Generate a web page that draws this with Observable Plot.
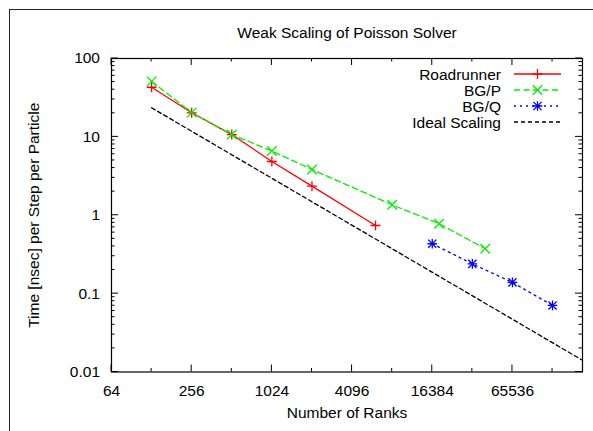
<!DOCTYPE html>
<html>
<head>
<meta charset="utf-8">
<script src="https://cdn.jsdelivr.net/npm/d3@7"></script>
<script src="https://cdn.jsdelivr.net/npm/@observablehq/plot@0.6"></script>
<style>
  html, body { margin: 0; padding: 0; background: #fff; }
  #chart { width: 593px; height: 431px; }
</style>
</head>
<body>
<div id="chart"></div>
<script>
// ---- data ----
const ranksRR = [128, 256, 512, 1024, 2048, 6144];
const timeRR = [43, 20.3, 10.7, 4.85, 2.35, 0.74];
const ranksBGP = [128, 256, 512, 1024, 2048, 8192, 18432, 40960];
const timeBGP = [51, 20.4, 10.7, 6.6, 3.84, 1.36, 0.78, 0.374];
const ranksBGQ = [16384, 32768, 65536, 131072];
const timeBGQ = [0.433, 0.24, 0.139, 0.0707];
const ranksIdeal = [128, 220000];
const timeIdeal = [23.5, 0.0141];
const xTicks = [64, 256, 1024, 4096, 16384, 65536];
const xMinor = [128, 512, 2048, 8192, 32768, 131072];
const yTicks = [0.01, 0.1, 1, 10, 100];
const seriesNames = ["Roadrunner", "BG/P", "BG/Q", "Ideal Scaling"];
const titleText = "Weak Scaling of Poisson Solver";
const xLabel = "Number of Ranks";
const yLabel = "Time [nsec] per Step per Particle";

const toRows = (xs, ys) => xs.map((x, i) => ({x, y: ys[i]}));
const rr = toRows(ranksRR, timeRR);
const bgp = toRows(ranksBGP, timeBGP);
const bgq = toRows(ranksBGQ, timeBGQ);
const ideal = toRows(ranksIdeal, timeIdeal);

const RED = "#ff0000", GREEN = "#00f000", BLUE = "#0000ff", BLACK = "#000000";
const FONT = "'Liberation Sans', Arial, Helvetica, sans-serif";
const FS = 15.5;

const plot = Plot.plot({
  width: 593,
  height: 431,
  marginLeft: 111,
  marginRight: 11,
  marginTop: 58,
  marginBottom: 59.5,
  style: {fontFamily: FONT, fontSize: FS + "px", color: "#000", background: "#fff"},
  x: {type: "log", base: 2, domain: [64, 220000]},
  y: {type: "log", domain: [0.01, 100]},
  marks: [
    Plot.axisX({ticks: xTicks, tickFormat: d => String(d), tickSize: 0, tickPadding: 13, label: null, fontSize: FS}),
    Plot.axisY({ticks: yTicks, tickFormat: d => String(d), tickSize: 0, tickPadding: 11.5, label: null, fontSize: FS}),
    Plot.line(ideal, {x: "x", y: "y", stroke: BLACK, strokeWidth: 1.3, strokeDasharray: "4,3"}),
    Plot.line(rr, {x: "x", y: "y", stroke: RED, strokeWidth: 1.3}),
    Plot.line(bgp, {x: "x", y: "y", stroke: GREEN, strokeWidth: 1.3, strokeDasharray: "6,3.5"}),
    Plot.line(bgq, {x: "x", y: "y", stroke: BLUE, strokeWidth: 1.3, strokeDasharray: "2,4"}),
    Plot.dot(rr, {x: "x", y: "y", symbol: "plus", r: 3.3, stroke: RED, strokeWidth: 1.3}),
    Plot.dot(bgp, {x: "x", y: "y", symbol: "times", r: 4.4, stroke: GREEN, strokeWidth: 1.3}),
    Plot.dot(bgq, {x: "x", y: "y", symbol: "plus", r: 3.2, stroke: BLUE, strokeWidth: 1.3}),
    Plot.dot(bgq, {x: "x", y: "y", symbol: "times", r: 3.8, stroke: BLUE, strokeWidth: 1.3}),
    Plot.frame({stroke: BLACK, strokeWidth: 1.2}),
    Plot.text([titleText], {text: d => d, frameAnchor: "top", lineAnchor: "middle", dy: -25, fontSize: FS}),
    Plot.text([xLabel], {text: d => d, frameAnchor: "bottom", lineAnchor: "middle", dy: 41, fontSize: FS}),
    Plot.text([yLabel], {text: d => d, frameAnchor: "left", textAnchor: "middle", lineAnchor: "middle", rotate: -90, dx: -77, fontSize: FS})
  ]
});

document.getElementById("chart").appendChild(plot);

// ---- inward mirrored ticks (gnuplot style) ----
const sx = plot.scale("x"), sy = plot.scale("y");
const [x0, x1] = sx.range;
const [y0, y1] = sy.range; // y0 bottom, y1 top
const svg = d3.select(plot);
const tg = svg.append("g").attr("stroke", BLACK).attr("stroke-width", 1);
const MAJ = 7, MIN = 3.5;
function xt(v, len) {
  const px = sx.apply(v);
  if (px < x0 - 0.5 || px > x1 + 0.5) return;
  tg.append("line").attr("x1", px).attr("x2", px).attr("y1", y0).attr("y2", y0 - len);
  tg.append("line").attr("x1", px).attr("x2", px).attr("y1", y1).attr("y2", y1 + len);
}
function yt(v, len) {
  const py = sy.apply(v);
  tg.append("line").attr("x1", x0).attr("x2", x0 + len).attr("y1", py).attr("y2", py);
  tg.append("line").attr("x1", x1).attr("x2", x1 - len).attr("y1", py).attr("y2", py);
}
xTicks.forEach(v => xt(v, MAJ));
xMinor.forEach(v => xt(v, MIN));
yTicks.forEach(v => yt(v, MAJ));
yTicks.slice(0, -1).forEach(d => { for (let k = 2; k <= 9; k++) yt(d * k, MIN); });

// ---- outer figure border (top and left) ----
svg.append("line").attr("x1", 9).attr("x2", 593).attr("y1", 9.5).attr("y2", 9.5).attr("stroke", "#222").attr("stroke-width", 1);
svg.append("line").attr("x1", 9.5).attr("x2", 9.5).attr("y1", 9).attr("y2", 431).attr("stroke", "#222").attr("stroke-width", 1);

// ---- legend ----
const styles = [
  {stroke: RED, dash: null, marks: [["plus", 3.3]]},
  {stroke: GREEN, dash: "6,3.5", marks: [["times", 4.4]]},
  {stroke: BLUE, dash: "2,4", marks: [["plus", 3.2], ["times", 3.8]]},
  {stroke: BLACK, dash: "4,3", marks: []}
];
const symMap = {plus: d3.symbolPlus, times: d3.symbolTimes};
const lg = svg.append("g").attr("font-family", FONT).attr("font-size", FS);
seriesNames.forEach((name, i) => {
  const yy = 74 + 16 * i;
  const st = styles[i];
  lg.append("text").attr("x", 501).attr("y", yy).attr("text-anchor", "end").attr("dy", "0.36em").attr("fill", BLACK).text(name);
  const ln = lg.append("line").attr("x1", 514).attr("x2", 561).attr("y1", yy).attr("y2", yy)
    .attr("stroke", st.stroke).attr("stroke-width", 1.3);
  if (st.dash) ln.attr("stroke-dasharray", st.dash);
  st.marks.forEach(([s, r]) => {
    lg.append("path").attr("transform", `translate(537.5,${yy})`)
      .attr("d", d3.symbol(symMap[s], Math.PI * r * r)())
      .attr("fill", "none").attr("stroke", st.stroke).attr("stroke-width", 1.3);
  });
});
</script>
</body>
</html>
